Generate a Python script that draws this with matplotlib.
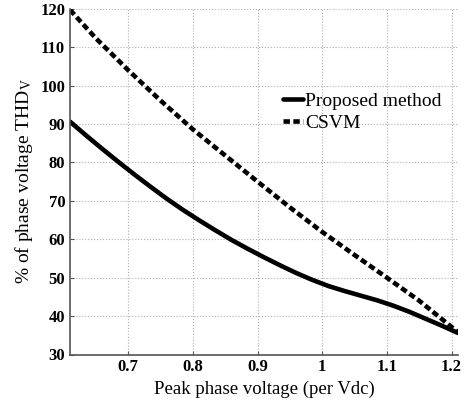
import matplotlib
matplotlib.use("Agg")
import matplotlib.pyplot as plt

x_prop = [0.61, 0.635, 0.66, 0.685, 0.71, 0.735, 0.76, 0.785, 0.81, 0.835, 0.86, 0.885, 0.91,
          0.935, 0.96, 0.985, 1.01, 1.035, 1.06, 1.085, 1.11, 1.135, 1.16, 1.185, 1.21]
y_prop = [90.6, 87.0, 83.5, 80.1, 76.8, 73.6, 70.5, 67.6, 64.9, 62.3, 59.8, 57.5, 55.3,
          53.2, 51.2, 49.4, 47.8, 46.5, 45.3, 44.1, 42.7, 41.1, 39.3, 37.5, 35.6]
x_csvm = [0.61, 0.65, 0.70, 0.75, 0.80, 0.85, 0.90, 0.95, 1.0, 1.05, 1.10, 1.15, 1.21]
y_csvm = [119.7, 112.3, 104.0, 96.1, 88.6, 81.8, 75.0, 68.3, 61.9, 55.9, 50.0, 44.0, 35.8]
xticks = [0.7, 0.8, 0.9, 1.0, 1.1, 1.2]
xticklabels = ["0.7", "0.8", "0.9", "1", "1.1", "1.2"]
yticks = [30, 40, 50, 60, 70, 80, 90, 100, 110, 120]

plt.rcParams['font.family'] = ['Liberation Serif', 'DejaVu Serif']
plt.rcParams['mathtext.fontset'] = 'custom'
plt.rcParams['mathtext.rm'] = 'Liberation Serif'
plt.rcParams['mathtext.it'] = 'Liberation Serif'

fig = plt.figure(figsize=(4.69, 4.04), dpi=100)
ax = fig.add_axes([70/469, 1-354.5/404, (458-70)/469, (354.5-8.7)/404])

ax.plot(x_prop, y_prop, color='black', lw=3.3, label='Proposed method',
        solid_capstyle='round', solid_joinstyle='round')
ax.plot(x_csvm, y_csvm, color='black', lw=3.3, ls=(0, (1.4, 0.75)), label='CSVM',
        dash_capstyle='butt')

ax.set_xlim(0.61, 1.21)
ax.set_ylim(30, 120)
ax.set_xticks(xticks)
ax.set_xticklabels(xticklabels)
ax.set_yticks(yticks)
ax.grid(True, color='#b0b0b0', ls=':', lw=0.8)
for s in ['top', 'right']:
    ax.spines[s].set_visible(False)
for s in ['left', 'bottom']:
    ax.spines[s].set_color('#555555')
    ax.spines[s].set_linewidth(1.2)
ax.tick_params(direction='in', length=3, colors='#555555', labelcolor='black')
for lab in ax.get_xticklabels() + ax.get_yticklabels():
    lab.set_fontsize(12)
    lab.set_fontweight('bold')

ax.set_xlabel('Peak phase voltage (per Vdc)', fontsize=13.5, labelpad=4)
ax.set_ylabel('% of phase voltage THD$_\\mathregular{V}$', fontsize=14, labelpad=4)

leg = ax.legend(loc='upper left', bbox_to_anchor=(0.53, 0.78), frameon=False,
                fontsize=14, handlelength=1.0, handletextpad=0.1, labelspacing=0.2,
                borderaxespad=0)

fig.savefig('out.png', dpi=100)
